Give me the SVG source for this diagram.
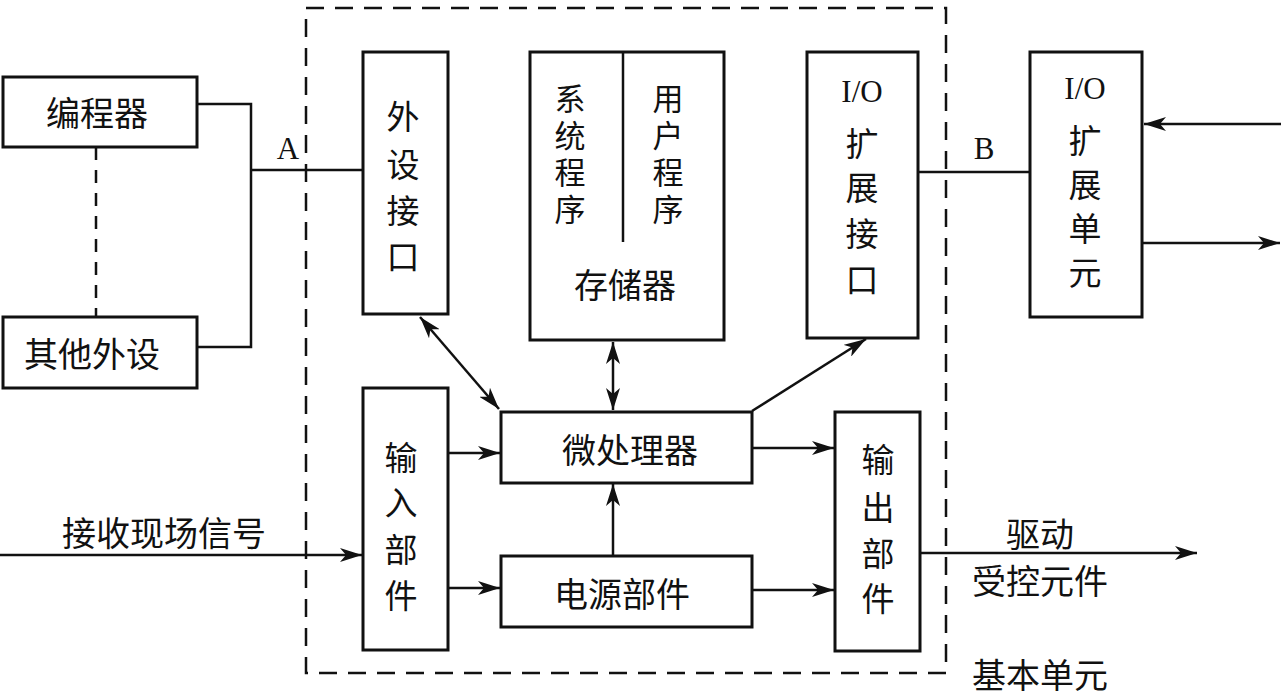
<svg xmlns="http://www.w3.org/2000/svg" width="1281" height="696" viewBox="0 0 1281 696">
<style>
.box{fill:#fff;stroke:#111;stroke-width:3}
.ln{fill:none;stroke:#111;stroke-width:2.5}
.arr{fill:none;stroke:#111;stroke-width:2.5;marker-end:url(#ah)}
.bi{fill:none;stroke:#111;stroke-width:2.5;marker-end:url(#ah);marker-start:url(#ah)}
.dash{fill:none;stroke:#111;stroke-width:2.5;stroke-dasharray:18 11}
.t{font-family:"Noto Sans CJK SC","Noto Sans",sans-serif;font-size:34px;fill:#111;text-anchor:middle;dominant-baseline:central}
.v{font-size:33px}
.m{font-family:"Noto Sans CJK SC","Noto Sans",sans-serif;font-size:31px;fill:#111;text-anchor:middle;writing-mode:vertical-rl;letter-spacing:6px}
.u{font-family:"Noto Sans CJK SC","Noto Sans",sans-serif;font-size:33px;fill:#111;text-anchor:middle;writing-mode:vertical-rl;letter-spacing:11px}
.l{font-family:"Liberation Serif",serif;font-size:31px;fill:#111;text-anchor:middle}
</style>
<defs>
<marker id="ah" markerUnits="userSpaceOnUse" markerWidth="24" markerHeight="14" refX="22" refY="7" orient="auto-start-reverse">
<path d="M0,0 L22,7 L0,14 L6,7 z" fill="#111"/>
</marker>
</defs>
<rect x="306" y="8" width="640" height="665" class="dash"/>
<g id="connectors">
<polyline class="ln" points="197,104 251,104 251,347 197,347"/>
<line class="ln" x1="251" y1="170" x2="363" y2="170"/>
<line class="ln" x1="96" y1="147" x2="96" y2="317" stroke-dasharray="13 10"/>
<line class="bi" x1="420" y1="317" x2="499" y2="409"/>
<line class="bi" x1="613" y1="342" x2="613" y2="410"/>
<line class="arr" x1="752" y1="411" x2="866" y2="339"/>
<line class="arr" x1="448" y1="453" x2="500" y2="453"/>
<line class="arr" x1="448" y1="588" x2="500" y2="588"/>
<line class="arr" x1="613" y1="556" x2="613" y2="484"/>
<line class="arr" x1="752" y1="448" x2="834" y2="448"/>
<line class="arr" x1="752" y1="590" x2="834" y2="590"/>
<line class="arr" x1="0" y1="555" x2="362" y2="555"/>
<line class="arr" x1="920" y1="553" x2="1197" y2="553"/>
<line class="ln" x1="918" y1="172" x2="1030" y2="172"/>
<line class="arr" x1="1281" y1="124" x2="1144" y2="124"/>
<line class="arr" x1="1142" y1="243" x2="1280" y2="243"/>
</g>
<g id="programmer"><rect class="box" x="3" y="77" width="194" height="70"/><text class="t" x="97" y="111">编程器</text></g>
<g id="other-peripherals"><rect class="box" x="3" y="317" width="194" height="71"/><text class="t" x="92" y="352">其他外设</text></g>
<g id="peripheral-interface"><rect class="box" x="363" y="52" width="85" height="262"/>
<text class="t v"><tspan x="403" y="115">外</tspan><tspan x="403" y="163">设</tspan><tspan x="403" y="209">接</tspan><tspan x="403" y="255">口</tspan></text></g>
<g id="memory"><rect class="box" x="530" y="52" width="194" height="288"/>
<line class="ln" x1="623" y1="52" x2="623" y2="242"/>
<text class="m" x="570" y="156.5">系统程序</text>
<text class="m" x="668" y="156.5">用户程序</text>
<text class="t" x="625" y="283">存储器</text></g>
<g id="io-interface"><rect class="box" x="807" y="52" width="111" height="286"/>
<text class="l" x="862" y="102">I/O</text>
<text class="t v"><tspan x="862" y="142">扩</tspan><tspan x="862" y="186">展</tspan><tspan x="862" y="232">接</tspan><tspan x="862" y="278">口</tspan></text></g>
<g id="io-unit"><rect class="box" x="1030" y="52" width="112" height="265"/>
<text class="l" x="1085" y="99">I/O</text>
<text class="u" x="1085" y="212">扩展单元</text></g>
<g id="input"><rect class="box" x="363" y="388" width="85" height="262"/>
<text class="t v"><tspan x="401" y="456">输</tspan><tspan x="401" y="501">入</tspan><tspan x="401" y="548">部</tspan><tspan x="401" y="594">件</tspan></text></g>
<g id="cpu"><rect class="box" x="501" y="412" width="251" height="71"/><text class="t" x="630" y="448">微处理器</text></g>
<g id="power"><rect class="box" x="501" y="556" width="251" height="71"/><text class="t" x="622" y="592">电源部件</text></g>
<g id="output"><rect class="box" x="835" y="412" width="85" height="239"/>
<text class="t v"><tspan x="878" y="458">输</tspan><tspan x="878" y="506">出</tspan><tspan x="878" y="552">部</tspan><tspan x="878" y="597">件</tspan></text></g>
<g id="labels">
<text class="l" x="288" y="159">A</text>
<text class="l" x="984" y="159">B</text>
<text class="t" x="164" y="531">接收现场信号</text>
<text class="t" x="1040" y="532">驱动</text>
<text class="t" x="1040" y="579">受控元件</text>
<text class="t" x="1040" y="673">基本单元</text>
</g>
</svg>
